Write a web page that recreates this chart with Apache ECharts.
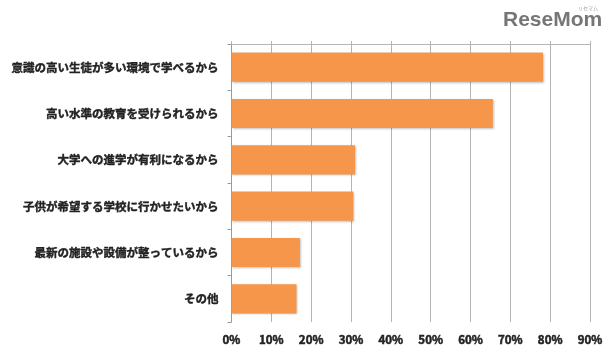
<!DOCTYPE html>
<html><head><meta charset="utf-8">
<script src="https://cdn.jsdelivr.net/npm/echarts@6/dist/echarts.min.js"></script>
<style>html,body{margin:0;padding:0;background:#fff}#c{width:614px;height:362px}</style>
</head><body><div id="c"></div>
<script>
var categories = ['意識の高い生徒が多い環境で学べるから','高い水準の教育を受けられるから','大学への進学が有利になるから','子供が希望する学校に行かせたいから','最新の施設や設備が整っているから','その他'];
var values = [78.2, 65.6, 31.0, 30.6, 17.2, 16.3];
var xTicks = [0,10,20,30,40,50,60,70,80,90];

var chart = echarts.init(document.getElementById('c'));
chart.setOption({
  animation: false,
  backgroundColor: '#fff',
  grid: {left: 231.5, right: 24, top: 44, bottom: 40, containLabel: false},
  graphic: [
    {type:'text', left: 503, top: 10, style:{text:'ReseMom', font:'bold 21px "Liberation Sans Narrow", "Liberation Sans", Arial, sans-serif', fill:'#767676'}},
    {type:'text', left: 578, top: 6, style:{text:'リセマム', font:'5px "Noto Sans CJK JP"', fill:'#999'}}
  ],
  xAxis: [{
    type: 'value', min: xTicks[0], max: xTicks[xTicks.length-1], interval: 10, position: 'bottom',
    axisLine: {show: false}, axisTick: {show: false},
    splitLine: {show: true, lineStyle: {color: '#b4b4b4', width: 1}},
    axisLabel: {formatter: '{value}%', fontFamily: '"Noto Sans CJK JP"', fontWeight: 'bold', fontSize: 11.5, color: '#222', margin: 12, textBorderColor: '#222', textBorderWidth: 0.5}
  },{
    type: 'value', min: xTicks[0], max: xTicks[xTicks.length-1], interval: 10, position: 'top',
    axisLine: {show: true, lineStyle: {color: '#b4b4b4'}},
    axisTick: {show: true, length: 3, lineStyle: {color: '#b4b4b4'}},
    axisLabel: {show: false}, splitLine: {show: false}
  }],
  yAxis: {
    type: 'category', data: categories, inverse: true,
    axisLine: {show: true, lineStyle: {color: '#9a9a9a'}},
    axisTick: {show: true, length: 4, lineStyle: {color: '#9a9a9a'}},
    axisLabel: {fontFamily: '"Noto Sans CJK JP"', fontWeight: 'bold', fontSize: 11.5, color: '#222', margin: 13, textBorderColor: '#222', textBorderWidth: 0.4}
  },
  series: [{
    type: 'bar', data: values, barCategoryGap: '37%',
    itemStyle: {color: '#f5964a', shadowBlur: 2, shadowColor: 'rgba(0,0,0,0.25)', shadowOffsetX: 1, shadowOffsetY: 1}
  }]
});
</script></body></html>
